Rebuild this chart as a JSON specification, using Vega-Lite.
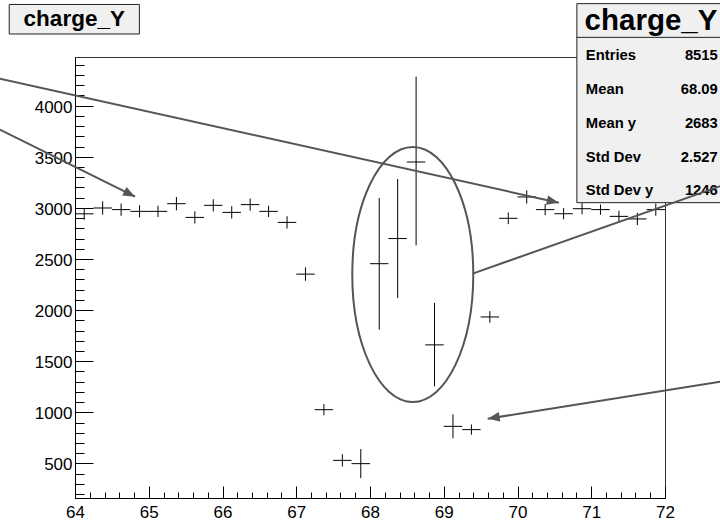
{
  "$schema": "https://vega.github.io/schema/vega-lite/v6.json",
  "width": 590,
  "height": 441,
  "autosize": "none",
  "padding": {"left": 75, "top": 57, "right": 55, "bottom": 22},
  "background": "white",
  "config": {
    "view": {"stroke": "#333", "strokeWidth": 1},
    "font": "Liberation Sans",
    "axis": {
      "grid": false,
      "domainColor": "#000",
      "domainWidth": 1,
      "tickColor": "#000",
      "tickWidth": 1,
      "labelColor": "#000",
      "labelFont": "Liberation Sans",
      "labelFontSize": 17,
      "labelOverlap": false,
      "labelFlush": false
    }
  },
  "datasets": {
    "bins": [
      {"x": 64.125, "x0": 64.0, "x1": 64.25, "y": 2942, "lo": 2885, "hi": 2999},
      {"x": 64.375, "x0": 64.25, "x1": 64.5, "y": 2999, "lo": 2934, "hi": 3064},
      {"x": 64.625, "x0": 64.5, "x1": 64.75, "y": 2983, "lo": 2923, "hi": 3043},
      {"x": 64.875, "x0": 64.75, "x1": 65.0, "y": 2966, "lo": 2906, "hi": 3026},
      {"x": 65.125, "x0": 65.0, "x1": 65.25, "y": 2966, "lo": 2911, "hi": 3021},
      {"x": 65.375, "x0": 65.25, "x1": 65.5, "y": 3041, "lo": 2976, "hi": 3106},
      {"x": 65.625, "x0": 65.5, "x1": 65.75, "y": 2907, "lo": 2847, "hi": 2967},
      {"x": 65.875, "x0": 65.75, "x1": 66.0, "y": 3025, "lo": 2965, "hi": 3085},
      {"x": 66.125, "x0": 66.0, "x1": 66.25, "y": 2956, "lo": 2896, "hi": 3016},
      {"x": 66.375, "x0": 66.25, "x1": 66.5, "y": 3032, "lo": 2972, "hi": 3092},
      {"x": 66.625, "x0": 66.5, "x1": 66.75, "y": 2966, "lo": 2911, "hi": 3021},
      {"x": 66.875, "x0": 66.75, "x1": 67.0, "y": 2858, "lo": 2798, "hi": 2918},
      {"x": 67.125, "x0": 67.0, "x1": 67.25, "y": 2352, "lo": 2287, "hi": 2417},
      {"x": 67.375, "x0": 67.25, "x1": 67.5, "y": 1026, "lo": 971, "hi": 1081},
      {"x": 67.625, "x0": 67.5, "x1": 67.75, "y": 530, "lo": 470, "hi": 590},
      {"x": 67.875, "x0": 67.75, "x1": 68.0, "y": 498, "lo": 356, "hi": 640},
      {"x": 68.125, "x0": 68.0, "x1": 68.25, "y": 2454, "lo": 1809, "hi": 3097},
      {"x": 68.375, "x0": 68.25, "x1": 68.5, "y": 2700, "lo": 2119, "hi": 3283},
      {"x": 68.625, "x0": 68.5, "x1": 68.75, "y": 3449, "lo": 2633, "hi": 4284},
      {"x": 68.875, "x0": 68.75, "x1": 69.0, "y": 1660, "lo": 1254, "hi": 2070},
      {"x": 69.125, "x0": 69.0, "x1": 69.25, "y": 863, "lo": 746, "hi": 980},
      {"x": 69.375, "x0": 69.25, "x1": 69.5, "y": 831, "lo": 781, "hi": 881},
      {"x": 69.625, "x0": 69.5, "x1": 69.75, "y": 1933, "lo": 1876, "hi": 1990},
      {"x": 69.875, "x0": 69.75, "x1": 70.0, "y": 2898, "lo": 2841, "hi": 2955},
      {"x": 70.125, "x0": 70.0, "x1": 70.25, "y": 3107, "lo": 3042, "hi": 3172},
      {"x": 70.375, "x0": 70.25, "x1": 70.5, "y": 2983, "lo": 2928, "hi": 3038},
      {"x": 70.625, "x0": 70.5, "x1": 70.75, "y": 2943, "lo": 2888, "hi": 2998},
      {"x": 70.875, "x0": 70.75, "x1": 71.0, "y": 2992, "lo": 2937, "hi": 3047},
      {"x": 71.125, "x0": 71.0, "x1": 71.25, "y": 2983, "lo": 2933, "hi": 3033},
      {"x": 71.375, "x0": 71.25, "x1": 71.5, "y": 2917, "lo": 2862, "hi": 2972},
      {"x": 71.625, "x0": 71.5, "x1": 71.75, "y": 2892, "lo": 2832, "hi": 2952},
      {"x": 71.875, "x0": 71.75, "x1": 72.0, "y": 2983, "lo": 2923, "hi": 3043}
    ],
    "boxes": [
      {"name": "title", "x": 63.108, "x2": 64.873, "y": 4990, "y2": 4701},
      {"name": "stats", "x": 70.805, "x2": 72.9, "y": 4998, "y2": 3051}
    ],
    "separator": [
      {"x": 70.805, "x2": 72.9, "y": 4668}
    ],
    "lines": [
      {"x": 62.981, "y": 4264, "x2": 70.56, "y2": 3051},
      {"x": 62.981, "y": 3765, "x2": 64.815, "y2": 3110},
      {"x": 69.392, "y": 2357, "x2": 72.829, "y2": 3233},
      {"x": 72.829, "y": 1308, "x2": 69.596, "y2": 938}
    ],
    "heads": [
      {"x": 70.56, "y": 3051, "angle": 12.53},
      {"x": 64.815, "y": 3110, "angle": 26.39},
      {"x": 69.596, "y": 938, "angle": 170.98}
    ],
    "ellipse": [
      {"x": 68.58, "y": 2349}
    ],
    "titles": [
      {"text": "charge_Y", "x": 63.99, "y": 4776}
    ],
    "statTitle": [
      {"text": "charge_Y", "x": 71.81, "y": 4737}
    ],
    "statLabels": [
      {"text": "Entries", "x": 70.927, "y": 4450},
      {"text": "Mean", "x": 70.927, "y": 4117},
      {"text": "Mean y", "x": 70.927, "y": 3782},
      {"text": "Std Dev", "x": 70.927, "y": 3445},
      {"text": "Std Dev y", "x": 70.927, "y": 3129}
    ],
    "statValues": [
      {"text": "8515", "x": 72.716, "y": 4450},
      {"text": "68.09", "x": 72.716, "y": 4117},
      {"text": "2683", "x": 72.716, "y": 3782},
      {"text": "2.527", "x": 72.716, "y": 3445},
      {"text": "1246", "x": 72.716, "y": 3129}
    ]
  },
  "layer": [
    {
      "data": {"name": "bins"},
      "mark": {"type": "rule", "color": "#000", "strokeWidth": 1},
      "encoding": {
        "x": {
          "field": "x", "type": "quantitative",
          "scale": {"domain": [64, 72], "nice": false, "zero": false},
          "axis": {
            "title": null,
            "tickCount": 1000,
            "labelOverlap": false,
            "values": [64,64.2,64.4,64.6,64.8,65,65.2,65.4,65.6,65.8,66,66.2,66.4,66.6,66.8,67,67.2,67.4,67.6,67.8,68,68.2,68.4,68.6,68.8,69,69.2,69.4,69.6,69.8,70,70.2,70.4,70.6,70.8,71,71.2,71.4,71.6,71.8,72],
            "tickSize": {"condition": {"test": "abs(datum.value - round(datum.value)) < 0.001", "value": -12}, "value": -6},
            "labelExpr": "abs(datum.value - round(datum.value)) < 0.001 ? format(datum.value, 'd') : ''",
            "labelPadding": 18,
            "labelBaseline": "top"
          }
        },
        "y": {
          "field": "lo", "type": "quantitative",
          "scale": {"domain": [162, 4476], "nice": false, "zero": false},
          "axis": {
            "title": null,
            "tickCount": 1000,
            "labelOverlap": false,
            "values": [200,300,400,500,600,700,800,900,1000,1100,1200,1300,1400,1500,1600,1700,1800,1900,2000,2100,2200,2300,2400,2500,2600,2700,2800,2900,3000,3100,3200,3300,3400,3500,3600,3700,3800,3900,4000,4100,4200,4300,4400],
            "tickSize": {"condition": {"test": "datum.value % 500 === 0", "value": -18}, "value": -9},
            "labelExpr": "datum.value % 500 === 0 ? format(datum.value, 'd') : ''",
            "labelPadding": 21,
            "labelOffset": 1.5
          }
        },
        "y2": {"field": "hi"}
      }
    },
    {
      "data": {"name": "bins"},
      "mark": {"type": "rule", "color": "#000", "strokeWidth": 1},
      "encoding": {
        "x": {"field": "x0", "type": "quantitative", "scale": {"domain": [64, 72], "nice": false, "zero": false}},
        "x2": {"field": "x1"},
        "y": {"field": "y", "type": "quantitative", "scale": {"domain": [162, 4476], "nice": false, "zero": false}}
      }
    },
    {
      "data": {"name": "boxes"},
      "mark": {"type": "rect", "fill": "#f0f0f0", "stroke": "#222", "strokeWidth": 1},
      "encoding": {
        "x": {"field": "x", "type": "quantitative", "scale": {"domain": [64, 72], "nice": false, "zero": false}},
        "x2": {"field": "x2"},
        "y": {"field": "y", "type": "quantitative", "scale": {"domain": [162, 4476], "nice": false, "zero": false}},
        "y2": {"field": "y2"}
      }
    },
    {
      "data": {"name": "separator"},
      "mark": {"type": "rule", "color": "#222", "strokeWidth": 1},
      "encoding": {
        "x": {"field": "x", "type": "quantitative", "scale": {"domain": [64, 72], "nice": false, "zero": false}},
        "x2": {"field": "x2"},
        "y": {"field": "y", "type": "quantitative", "scale": {"domain": [162, 4476], "nice": false, "zero": false}}
      }
    },
    {
      "data": {"name": "titles"},
      "mark": {"type": "text", "font": "Liberation Sans", "fontWeight": "bold", "fontSize": 22.5, "align": "center", "baseline": "alphabetic", "color": "#000"},
      "encoding": {
        "x": {"field": "x", "type": "quantitative", "scale": {"domain": [64, 72], "nice": false, "zero": false}},
        "y": {"field": "y", "type": "quantitative", "scale": {"domain": [162, 4476], "nice": false, "zero": false}},
        "text": {"field": "text"}
      }
    },
    {
      "data": {"name": "statTitle"},
      "mark": {"type": "text", "font": "Liberation Sans", "fontWeight": "bold", "fontSize": 29.5, "align": "center", "baseline": "alphabetic", "color": "#000"},
      "encoding": {
        "x": {"field": "x", "type": "quantitative", "scale": {"domain": [64, 72], "nice": false, "zero": false}},
        "y": {"field": "y", "type": "quantitative", "scale": {"domain": [162, 4476], "nice": false, "zero": false}},
        "text": {"field": "text"}
      }
    },
    {
      "data": {"name": "statLabels"},
      "mark": {"type": "text", "font": "Liberation Sans", "fontWeight": "bold", "fontSize": 14.8, "align": "left", "baseline": "alphabetic", "color": "#000"},
      "encoding": {
        "x": {"field": "x", "type": "quantitative", "scale": {"domain": [64, 72], "nice": false, "zero": false}},
        "y": {"field": "y", "type": "quantitative", "scale": {"domain": [162, 4476], "nice": false, "zero": false}},
        "text": {"field": "text"}
      }
    },
    {
      "data": {"name": "statValues"},
      "mark": {"type": "text", "font": "Liberation Sans", "fontWeight": "bold", "fontSize": 14.8, "align": "right", "baseline": "alphabetic", "color": "#000"},
      "encoding": {
        "x": {"field": "x", "type": "quantitative", "scale": {"domain": [64, 72], "nice": false, "zero": false}},
        "y": {"field": "y", "type": "quantitative", "scale": {"domain": [162, 4476], "nice": false, "zero": false}},
        "text": {"field": "text"}
      }
    },
    {
      "data": {"name": "lines"},
      "mark": {"type": "rule", "color": "#555", "strokeWidth": 2},
      "encoding": {
        "x": {"field": "x", "type": "quantitative", "scale": {"domain": [64, 72], "nice": false, "zero": false}},
        "x2": {"field": "x2"},
        "y": {"field": "y", "type": "quantitative", "scale": {"domain": [162, 4476], "nice": false, "zero": false}},
        "y2": {"field": "y2"}
      }
    },
    {
      "data": {"name": "heads"},
      "mark": {"type": "point", "shape": "M0,0 L-2,-0.8 L-2,0.8 Z", "filled": true, "color": "#555", "opacity": 1, "size": 144},
      "encoding": {
        "x": {"field": "x", "type": "quantitative", "scale": {"domain": [64, 72], "nice": false, "zero": false}},
        "y": {"field": "y", "type": "quantitative", "scale": {"domain": [162, 4476], "nice": false, "zero": false}},
        "angle": {"field": "angle", "type": "quantitative", "scale": null}
      }
    },
    {
      "data": {"name": "ellipse"},
      "mark": {"type": "point", "shape": "M-0.4745,0 A0.4745,1 0 1,1 0.4745,0 A0.4745,1 0 1,1 -0.4745,0 Z", "filled": false, "stroke": "#555", "strokeWidth": 2, "opacity": 1, "size": 65025},
      "encoding": {
        "x": {"field": "x", "type": "quantitative", "scale": {"domain": [64, 72], "nice": false, "zero": false}},
        "y": {"field": "y", "type": "quantitative", "scale": {"domain": [162, 4476], "nice": false, "zero": false}}
      }
    }
  ]
}
